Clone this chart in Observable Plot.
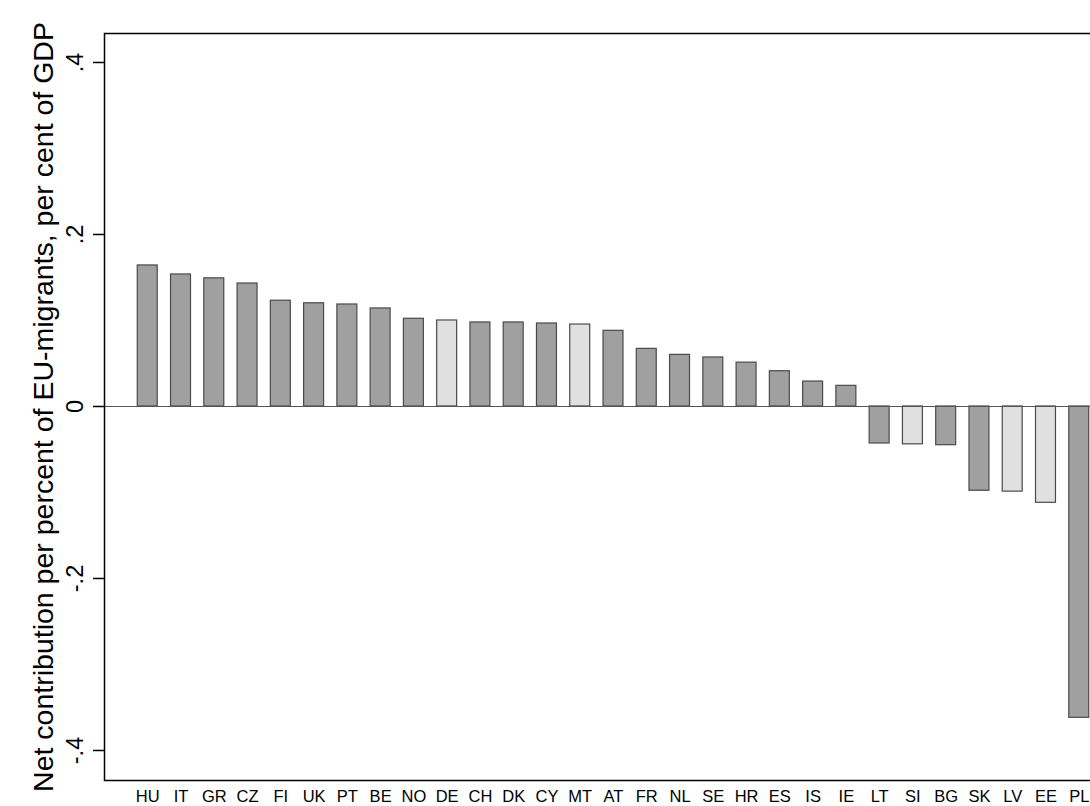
<!DOCTYPE html>
<html>
<head>
<meta charset="utf-8">
<script src="https://cdn.jsdelivr.net/npm/d3@7"></script>
<script src="https://cdn.jsdelivr.net/npm/@observablehq/plot@0.6"></script>
<style>
html, body { margin: 0; padding: 0; background: white; overflow: hidden; }
#chart svg { max-width: none !important; }
</style>
</head>
<body>
<div id="chart"></div>
<script>
const countries = ["HU","IT","GR","CZ","FI","UK","PT","BE","NO","DE","CH","DK","CY","MT","AT","FR","NL","SE","HR","ES","IS","IE","LT","SI","BG","SK","LV","EE","PL"];
const values = [0.164,0.1535,0.149,0.143,0.123,0.120,0.1186,0.114,0.102,0.100,0.0977,0.0977,0.0965,0.0953,0.088,0.067,0.060,0.057,0.051,0.041,0.029,0.024,-0.043,-0.044,-0.045,-0.098,-0.099,-0.112,-0.362];
const lightCountries = ["DE","MT","SI","LV","EE"];
const yTicks = [-0.4,-0.2,0,0.2,0.4];
const yTickLabels = ["-.4","-.2","0",".2",".4"];
const yTitle = "Net contribution per percent of EU-migrants, per cent of GDP";

const data = countries.map((c, i) => ({country: c, value: values[i], light: lightCountries.includes(c)}));

const chart = Plot.plot({
  width: 1125,
  height: 806,
  marginLeft: 104,
  marginRight: 3,
  marginTop: 33,
  marginBottom: 26,
  style: {fontFamily: "'Liberation Sans', Arial, Helvetica, sans-serif", color: "black", background: "white", maxWidth: "none"},
  x: {domain: countries, paddingInner: 0.4, paddingOuter: 1.0, round: false, label: null},
  y: {domain: [-0.4349, 0.4337], label: null},
  marks: [
    Plot.barY(data, {x: "country", y: "value", fill: d => d.light ? "#e0e0e0" : "#a0a0a0", stroke: "#4a4a4a", strokeWidth: 1.2}),
    Plot.ruleY([0], {stroke: "#555", strokeWidth: 1.2}),
    Plot.frame({stroke: "black", strokeWidth: 1.5}),
    Plot.axisY({ticks: yTicks, tickFormat: (d) => yTickLabels[yTicks.indexOf(d)], tickSize: 11, tickRotate: -90, tickPadding: 11, fontSize: 23.5, strokeWidth: 1.5, label: null}),
    Plot.axisX({tickSize: 0, tickPadding: 10, fontSize: 16.5, label: null}),
    Plot.text([yTitle], {frameAnchor: "left", dx: -52, rotate: -90, fontSize: 28.5, textAnchor: "middle", lineAnchor: "bottom", fill: "black"})
  ]
});
document.getElementById("chart").appendChild(chart);
</script>
</body>
</html>
